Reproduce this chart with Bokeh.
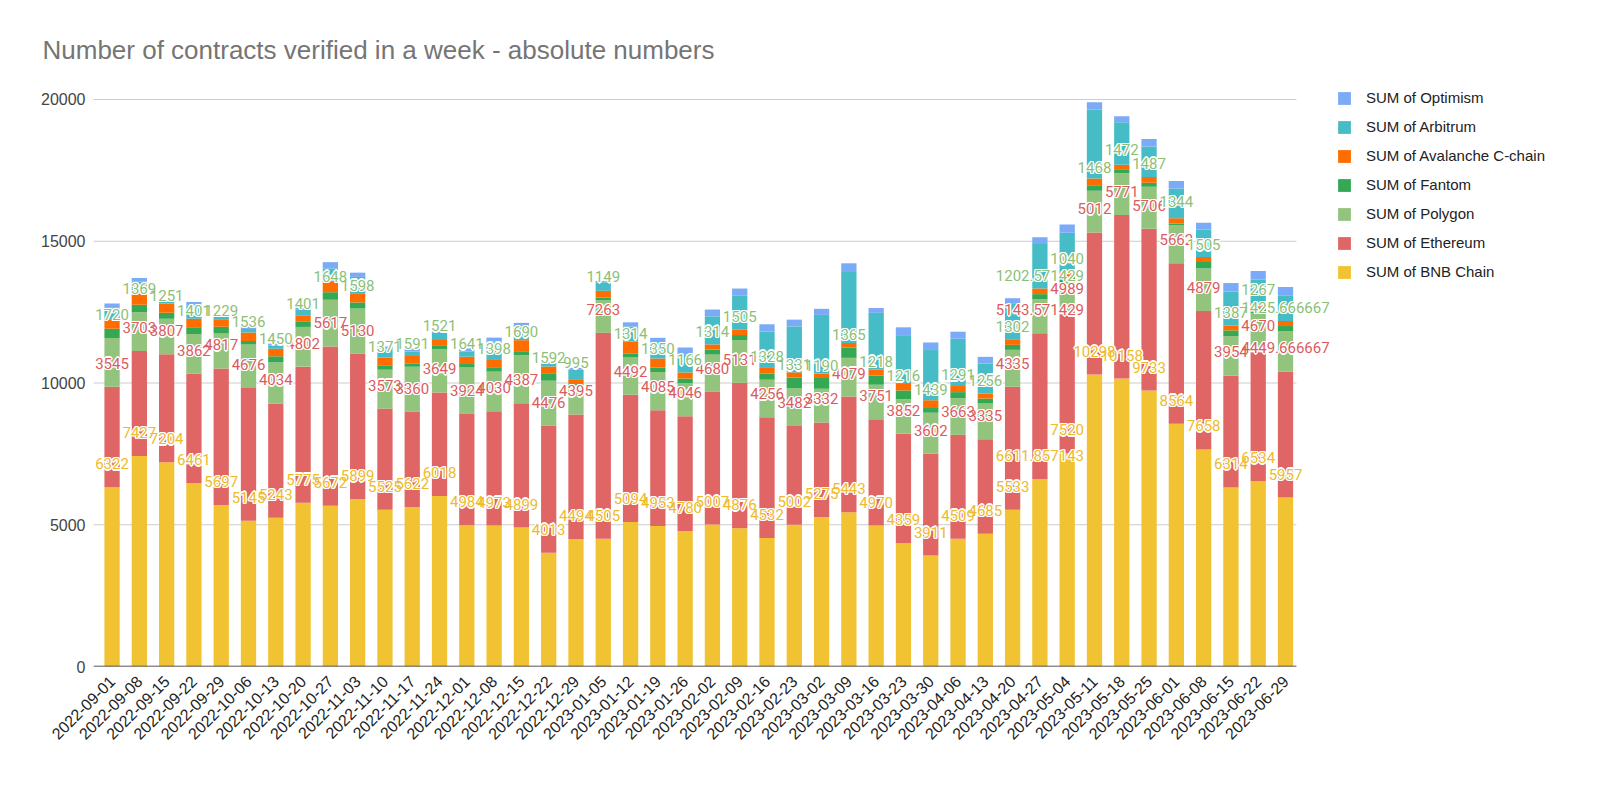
import math
from bokeh.plotting import figure
from bokeh.models import (ColumnDataSource, Range1d, Legend, LegendItem,
                          LabelSet, FixedTicker)
from bokeh.core.properties import value
from bokeh.embed import file_html
from bokeh.resources import INLINE

weeks = [
    "2022-09-01", "2022-09-08", "2022-09-15", "2022-09-22", "2022-09-29",
    "2022-10-06", "2022-10-13", "2022-10-20", "2022-10-27", "2022-11-03",
    "2022-11-10", "2022-11-17", "2022-11-24", "2022-12-01", "2022-12-08",
    "2022-12-15", "2022-12-22", "2022-12-29", "2023-01-05", "2023-01-12",
    "2023-01-19", "2023-01-26", "2023-02-02", "2023-02-09", "2023-02-16",
    "2023-02-23", "2023-03-02", "2023-03-09", "2023-03-16", "2023-03-23",
    "2023-03-30", "2023-04-06", "2023-04-13", "2023-04-20", "2023-04-27",
    "2023-05-04", "2023-05-11", "2023-05-18", "2023-05-25", "2023-06-01",
    "2023-06-08", "2023-06-15", "2023-06-22", "2023-06-29",
]

bnb = [6322, 7427, 7204, 6461, 5697, 5145, 5243, 5775, 5672, 5899,
       5525, 5622, 6018, 4984, 4973, 4899, 4013, 4494, 4505, 5094,
       4953, 4780, 5007, 4876, 4532, 5002, 5275, 5443, 4970, 4359,
       3911, 4509, 4685, 5533, 6611.857143, 7520, 10298, 10158, 9733, 8564,
       7658, 6314, 6534, 5957]
ethereum = [3545, 3703, 3807, 3862, 4817, 4676, 4034, 4802, 5617, 5130,
            3573, 3360, 3649, 3924, 4030, 4387, 4476, 4395, 7263, 4492,
            4085, 4046, 4680, 5131, 4256, 3482, 3332, 4079, 3751, 3852,
            3602, 3663, 3335, 4335, 5143.571429, 4989, 5012, 5771, 5706, 5662,
            4879, 3954, 4670, 4449.666667]
polygon = [1720, 1369, 1251, 1401, 1229, 1536, 1450, 1401, 1648, 1598,
           1371, 1591, 1521, 1641, 1398, 1690, 1592, 995, 1149, 1314,
           1350, 1166, 1314, 1505, 1328, 1331, 1190, 1365, 1218, 1216,
           1439, 1291, 1256, 1302, 1202.571429, 1040, 1468, 1472, 1487, 1344,
           1505, 1387, 1267, 1425.666667]
fantom = [325, 265, 215, 240, 240, 120, 215, 180, 265, 215,
          155, 120, 120, 120, 155, 120, 240, 80, 95, 145,
          155, 165, 180, 180, 215, 380, 380, 360, 320, 310,
          165, 215, 175, 175, 177, 200, 200, 140, 140, 60,
          225, 200, 180, 177]
avalanche = [313, 400, 325, 300, 265, 300, 265, 230, 360, 300,
             275, 260, 240, 260, 285, 415, 260, 170, 240, 415,
             320, 215, 180, 200, 200, 180, 155, 165, 215, 260,
             275, 215, 175, 175, 200, 187, 236, 155, 200, 177,
             177, 170, 150, 177]
arbitrum = [450, 420, 60, 470, 80, 130, 120, 190, 480, 600,
            280, 155, 215, 180, 620, 480, 100, 330, 300, 530,
            580, 640, 990, 1200, 1280, 1620, 2070, 2500, 2000, 1690,
            1770, 1670, 1060, 1270, 1570, 1360, 2430, 1500, 1080, 1050,
            970, 1200, 850, 890]
optimism = [130, 120, 50, 120, 75, 100, 70, 90, 220, 150,
            110, 110, 60, 120, 140, 130, 50, 70, 50, 150,
            150, 240, 240, 240, 260, 240, 215, 310, 170, 277,
            267, 247, 236, 200, 237, 295, 261, 213, 260, 270,
            236, 300, 300, 310]

y_ticks = [0, 5000, 10000, 15000, 20000]

keys = ["bnb", "ethereum", "polygon", "fantom", "avalanche", "arbitrum", "optimism"]
names = ["SUM of BNB Chain", "SUM of Ethereum", "SUM of Polygon", "SUM of Fantom",
         "SUM of Avalanche C-chain", "SUM of Arbitrum", "SUM of Optimism"]
colors = ["#F1C232", "#E06666", "#93C47D", "#34A853", "#FF6D01", "#46BDC6", "#7BAAF7"]
label_colors = ["#EDBB2C", "#DB5C60", "#8DBF77"]


def fmt(v):
    if float(v).is_integer():
        return str(int(v))
    return ("%.6f" % v).rstrip("0").rstrip(".")


idx = list(range(len(weeks)))
data = {"idx": idx, "bnb": bnb, "ethereum": ethereum, "polygon": polygon,
        "fantom": fantom, "avalanche": avalanche, "arbitrum": arbitrum,
        "optimism": optimism}
# tops of the labelled segments and their texts
running = [0] * len(weeks)
for k in keys[:3]:
    running = [a + b for a, b in zip(running, data[k])]
    data[k + "_top"] = running
    data[k + "_txt"] = [fmt(v) for v in data[k]]
source = ColumnDataSource(data)

FONT = "Liberation Sans"
GRID_X0, GRID_X1 = -0.68, 43.4   # plot area edges, in bar units

p = figure(
    x_range=Range1d(GRID_X0, 53.59),
    y_range=Range1d(0, 20670),
    width=1584, height=773,
    output_backend="svg", toolbar_location=None,
    min_border_left=93, min_border_right=10, min_border_top=80, min_border_bottom=107,
    title="Number of contracts verified in a week - absolute numbers",
)
p.title.text_font = FONT
p.title.text_font_size = "26px"
p.title.text_font_style = "normal"
p.title.text_color = "#757575"
p.title.offset = -51
p.title.standoff = 31

p.outline_line_color = None
p.background_fill_color = "white"
p.border_fill_color = "white"
p.xgrid.grid_line_color = None
p.ygrid.grid_line_color = None

# horizontal gridlines, only across the bar area
p.segment(x0=[GRID_X0] * len(y_ticks), x1=[GRID_X1] * len(y_ticks), y0=y_ticks, y1=y_ticks,
          line_color="#cccccc", line_width=1)

renderers = p.vbar_stack(keys, x="idx", width=0.56, color=colors, line_color=None,
                         source=source)

# baseline
p.segment(x0=[GRID_X0], x1=[GRID_X1], y0=[0], y1=[0], line_color="#333333", line_width=1.5)

p.yaxis.ticker = FixedTicker(ticks=y_ticks)
p.yaxis.axis_line_color = None
p.yaxis.major_tick_line_color = None
p.yaxis.minor_tick_line_color = None
p.yaxis.major_label_text_font = FONT
p.yaxis.major_label_text_font_size = "16px"
p.yaxis.major_label_text_color = "#444444"
p.yaxis.major_label_standoff = 2

p.xaxis.ticker = FixedTicker(ticks=idx)
p.xaxis.major_label_overrides = {i: w for i, w in zip(idx, weeks)}
p.xaxis.axis_line_color = None
p.xaxis.major_tick_line_color = None
p.xaxis.minor_tick_line_color = None
p.xaxis.major_label_orientation = math.pi / 4
p.xaxis.major_label_text_font = FONT
p.xaxis.major_label_text_font_size = "16px"
p.xaxis.major_label_text_color = "#222222"
p.xaxis.major_label_standoff = 6

# value labels with a thin white halo
halo = [(-1.3, 0), (1.3, 0), (0, -1.3), (0, 1.3), (-1, -1), (1, 1), (-1, 1), (1, -1)]
for k, c in zip(keys[:3], label_colors):
    for dx, dy in halo:
        p.add_layout(LabelSet(x="idx", y=k + "_top", text=k + "_txt", source=source,
                              x_offset=dx, y_offset=18 + dy, text_align="center",
                              text_baseline="alphabetic", text_font=value("Roboto"),
                              text_font_size=value("15px"), text_color=value("white")))
    p.add_layout(LabelSet(x="idx", y=k + "_top", text=k + "_txt", source=source,
                          x_offset=0, y_offset=18, text_align="center",
                          text_baseline="alphabetic", text_font=value("Roboto"),
                          text_font_size=value("15px"), text_color=value(c)))

items = [LegendItem(label=n, renderers=[r]) for n, r in zip(names, renderers)][::-1]
legend = Legend(items=items, location=(1243, 386), orientation="vertical")
legend.label_text_font = FONT
legend.label_text_font_size = "15px"
legend.label_text_color = "#222222"
legend.glyph_width = 16
legend.glyph_height = 16
legend.label_height = 16
legend.spacing = 12
legend.label_standoff = 14
legend.padding = 0
legend.margin = 0
legend.border_line_color = None
legend.background_fill_alpha = 0
p.add_layout(legend, "center")

open("out.html", "w").write(file_html(p, INLINE))
